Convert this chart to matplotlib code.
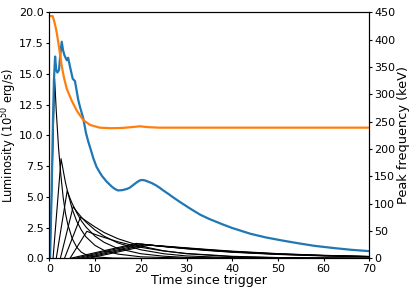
import matplotlib
matplotlib.use("Agg")
import matplotlib.pyplot as plt

# total luminosity (blue)
t_total = [0, 0.15, 0.5, 0.8, 1.0, 1.25, 1.5, 1.75, 2.1, 2.4, 2.7, 3.0, 3.3, 3.8, 4.1,
           4.5, 5.1, 5.6, 6.3, 6.7, 7.4, 8.0, 8.5, 9.0, 9.6, 10.3, 11.0, 11.5, 12.5,
           13.6, 14.3, 15.0, 16.0, 17.0, 17.6, 18.3, 19.0, 19.6, 20.1, 20.8, 21.5,
           22.4, 23.4, 24.2, 25.0, 26.0, 27.0, 28.5, 30.7, 33.0, 35.0, 38.0, 40.0,
           44.0, 47.4, 51.0, 54.6, 58.0, 62.0, 66.0, 70.0]
lum_total = [0, 0, 5.5, 11.5, 14.5, 16.4, 15.3, 15.1, 15.3, 16.6, 17.6, 16.9, 16.5,
             16.1, 16.3, 15.6, 14.6, 14.4, 12.9, 12.3, 11.4, 10.2, 9.5, 8.9, 8.15,
             7.45, 7.0, 6.7, 6.25, 5.85, 5.65, 5.52, 5.55, 5.65, 5.75, 5.95, 6.15,
             6.3, 6.37, 6.35, 6.25, 6.12, 5.92, 5.72, 5.5, 5.25, 4.98, 4.6, 4.07,
             3.55, 3.2, 2.75, 2.47, 2.0, 1.7, 1.45, 1.22, 1.02, 0.85, 0.7, 0.59]

# peak frequency (orange, right axis)
t_peak = [0, 0.7, 1.0, 1.25, 1.6, 2.0, 2.3, 2.7, 3.2, 3.8, 4.9, 6.0, 7.4, 8.9, 11.0,
          13.5, 16.0, 18.0, 19.8, 21.5, 24.0, 30.0, 40.0, 50.0, 60.0, 70.0]
e_peak = [443, 443, 435, 427, 413, 392, 375, 352, 330, 310, 288, 270, 253, 244, 239,
          238, 238.5, 240, 241.5, 240, 239, 239, 239, 239, 239, 239]

# individual pulses (black), early ones
p1_t = [0.15, 1.15, 1.5, 2.0, 2.5, 3.0, 3.5, 4.0, 5.0, 6.0, 7.0, 8.0, 10, 14, 20, 70]
p1_l = [0, 14.6, 12.0, 9.0, 6.8, 5.0, 3.7, 2.8, 1.6, 0.9, 0.5, 0.3, 0.12, 0.03, 0, 0]
p2_t = [0.8, 2.55, 3.0, 3.5, 4.0, 5.0, 6.0, 7.0, 8.0, 10, 12, 15, 20, 30, 70]
p2_l = [0, 8.1, 7.2, 6.2, 5.4, 4.0, 3.0, 2.3, 1.75, 1.05, 0.65, 0.35, 0.13, 0.02, 0]
p3_t = [1.5, 3.9, 4.5, 5.0, 6.0, 7.0, 8.0, 10, 12, 15, 20, 25, 30, 40, 70]
p3_l = [0, 5.5, 4.9, 4.45, 3.7, 3.05, 2.55, 1.8, 1.3, 0.8, 0.38, 0.18, 0.08, 0.02, 0]
p4_t = [2.4, 5.2, 6.0, 7.0, 8.0, 10, 12, 15, 20, 25, 30, 40, 50, 70]
p4_l = [0, 4.2, 3.8, 3.35, 2.95, 2.3, 1.8, 1.25, 0.7, 0.38, 0.2, 0.06, 0.02, 0]
p5_t = [3.3, 6.8, 8.0, 10, 12, 15, 20, 25, 30, 40, 50, 60, 70]
p5_l = [0, 3.35, 3.05, 2.55, 2.1, 1.6, 1.0, 0.62, 0.38, 0.14, 0.05, 0.02, 0.01]
p6_t = [4.5, 8.2, 10, 12, 15, 20, 25, 30, 40, 50, 60, 70]
p6_l = [0, 2.2, 1.95, 1.7, 1.35, 0.9, 0.6, 0.4, 0.17, 0.07, 0.03, 0.01]

# late pulses
l1_t = [4.5, 19.0, 25, 30, 35, 40, 50, 60, 70]
l1_l = [0, 1.22, 0.96, 0.78, 0.63, 0.5, 0.32, 0.2, 0.13]
l2_t = [5.5, 19.5, 25, 30, 35, 40, 50, 60, 70]
l2_l = [0, 1.18, 0.97, 0.8, 0.65, 0.52, 0.34, 0.22, 0.14]
l3_t = [6.5, 20.3, 25, 30, 35, 40, 50, 60, 70]
l3_l = [0, 1.14, 0.98, 0.82, 0.67, 0.54, 0.35, 0.23, 0.15]
l4_t = [7.5, 21.0, 25, 30, 35, 40, 50, 60, 70]
l4_l = [0, 1.1, 0.98, 0.83, 0.69, 0.56, 0.37, 0.24, 0.15]
l5_t = [8.5, 21.9, 25, 30, 35, 40, 50, 60, 70]
l5_l = [0, 1.08, 1.0, 0.86, 0.72, 0.59, 0.39, 0.25, 0.16]

pulses = [(p1_t, p1_l), (p2_t, p2_l), (p3_t, p3_l), (p4_t, p4_l), (p5_t, p5_l),
          (p6_t, p6_l), (l1_t, l1_l), (l2_t, l2_l), (l3_t, l3_l), (l4_t, l4_l),
          (l5_t, l5_l)]

plt.rcParams['font.size'] = 8

fig = plt.figure(figsize=(4.15, 2.91), dpi=100)
ax = fig.add_axes([0.119, 0.112, 0.771, 0.846])

for pt, pl in pulses:
    ax.plot(pt, pl, color='black', lw=0.8)
ax.plot(t_total, lum_total, color='#1f77b4', lw=1.6)

ax.set_xlim(0, 70)
ax.set_ylim(0, 20)
ax.tick_params(length=2.5, pad=1.5)
ax.set_xlabel("Time since trigger", fontsize=9.2, labelpad=0)
ax.set_ylabel("Luminosity ($10^{50}$ erg/s)", fontsize=8.3)
ax.yaxis.set_label_coords(-0.095, 0.5)

ax2 = ax.twinx()
ax2.plot(t_peak, e_peak, color='#ff7f0e', lw=1.6)
ax2.set_ylim(0, 450)
ax2.set_yticks(range(0, 451, 50))
ax2.tick_params(length=2.5, pad=1)
ax2.set_ylabel("Peak frequency (keV)", fontsize=9.3, labelpad=1)

fig.savefig("out.png", dpi=100)
